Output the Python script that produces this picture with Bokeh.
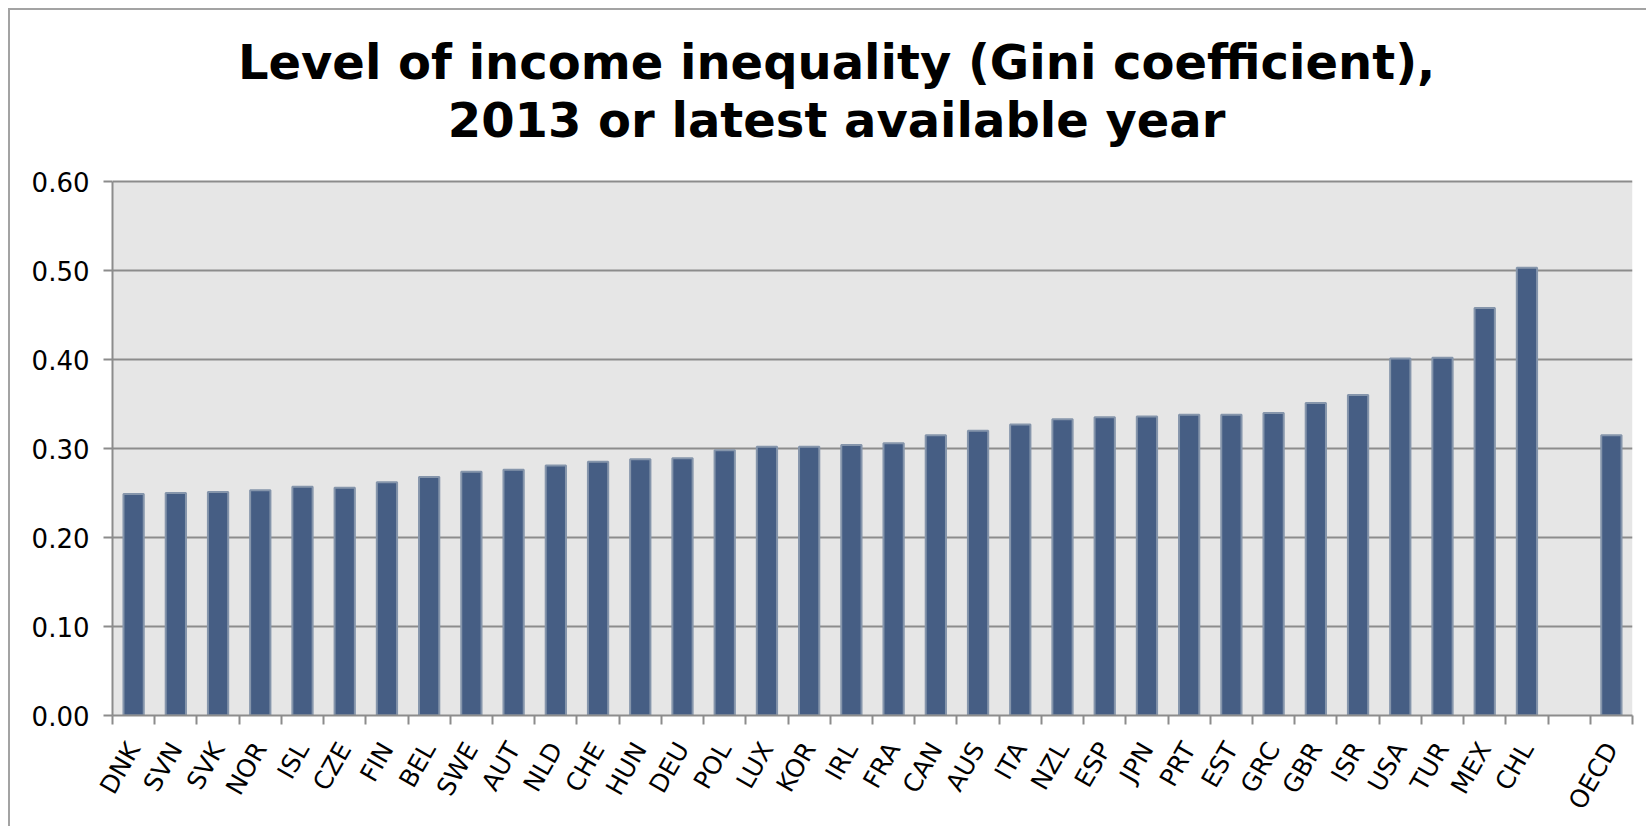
from bokeh.plotting import figure
from bokeh.models import Range1d, FixedTicker, Label, NumeralTickFormatter, BoxAnnotation
from bokeh.embed import file_html
from bokeh.resources import INLINE

# ---- data ----
countries = ["DNK", "SVN", "SVK", "NOR", "ISL", "CZE", "FIN", "BEL", "SWE", "AUT",
             "NLD", "CHE", "HUN", "DEU", "POL", "LUX", "KOR", "IRL", "FRA", "CAN",
             "AUS", "ITA", "NZL", "ESP", "JPN", "PRT", "EST", "GRC", "GBR", "ISR",
             "USA", "TUR", "MEX", "CHL"]
gini = [0.249, 0.250, 0.251, 0.253, 0.257, 0.256, 0.262, 0.268, 0.274, 0.276,
        0.281, 0.285, 0.288, 0.289, 0.298, 0.302, 0.302, 0.304, 0.306, 0.315,
        0.320, 0.327, 0.333, 0.335, 0.336, 0.338, 0.338, 0.340, 0.351, 0.360,
        0.401, 0.402, 0.458, 0.503]
oecd_label = "OECD"
oecd_value = 0.315
y_ticks = [0.0, 0.1, 0.2, 0.3, 0.4, 0.5, 0.6]
title_line1 = "Level of income inequality (Gini coefficient),"
title_line2 = "2013 or latest available year"

labels = countries + [oecd_label]
values = gini + [oecd_value]
slots = list(range(len(countries))) + [len(countries) + 1]   # one empty slot before OECD
n_slots = len(countries) + 2
centers = [s + 0.5 for s in slots]

GRID = "#8c8c8c"
FONT = "DejaVu Sans"
Y_MAX = y_ticks[-1]
Y_TOP = Y_MAX + 171 / 890.0          # extra room above the axis for the title

p = figure(width=1638, height=818, output_backend="svg", toolbar_location=None,
           x_range=Range1d(0, n_slots), y_range=Range1d(0, Y_TOP),
           min_border_left=102, min_border_right=16, min_border_top=0,
           min_border_bottom=113, background_fill_color="white",
           border_fill_color="white", outline_line_color=None)
p.margin = (8, 0, 0, 8)
p.styles = {"border-top": "2px solid #a3a3a3", "border-left": "2px solid #a3a3a3"}

# grey plot area (0 .. 0.60)
p.add_layout(BoxAnnotation(bottom=0, top=Y_MAX, fill_color="#e6e6e6", fill_alpha=1.0,
                           line_color=None, level="image"))

p.vbar(x=centers, top=values, width=0.48, bottom=0,
       fill_color="#465e84", line_color="#8595ab", line_width=2)

# two-line title, centred over the chart area
for txt, yy in ((title_line1, Y_TOP - 51 / 890.0), (title_line2, Y_TOP - 109 / 890.0)):
    p.add_layout(Label(x=17.15, y=yy, text=txt, text_align="center",
                       text_baseline="alphabetic", text_font=FONT,
                       text_font_size="48px", text_font_style="bold",
                       text_color="black"))

# y axis
p.yaxis.ticker = FixedTicker(ticks=y_ticks, minor_ticks=[])
p.yaxis.bounds = (0, Y_MAX)
p.yaxis.formatter = NumeralTickFormatter(format="0.00")
p.yaxis.major_label_text_font = FONT
p.yaxis.major_label_text_font_size = "26px"
p.yaxis.major_label_text_color = "black"
p.yaxis.major_label_standoff = 14
p.yaxis.axis_line_color = GRID
p.yaxis.axis_line_width = 2
p.yaxis.major_tick_line_color = GRID
p.yaxis.major_tick_line_width = 2
p.yaxis.major_tick_out = 9
p.yaxis.major_tick_in = 0

# x axis: labels at bar centres, tick marks at slot boundaries
p.xaxis.ticker = FixedTicker(ticks=centers, minor_ticks=list(range(n_slots + 1)))
p.xaxis.major_label_overrides = {c: lab for c, lab in zip(centers, labels)}
p.xaxis.major_label_orientation = 1.05
p.xaxis.major_label_text_font = FONT
p.xaxis.major_label_text_font_size = "25px"
p.xaxis.major_label_text_color = "black"
p.xaxis.major_label_standoff = 20
p.xaxis.axis_line_color = GRID
p.xaxis.axis_line_width = 2
p.xaxis.major_tick_line_color = None
p.xaxis.minor_tick_line_color = GRID
p.xaxis.minor_tick_line_width = 2
p.xaxis.minor_tick_out = 9
p.xaxis.minor_tick_in = 0

p.xgrid.grid_line_color = None
p.ygrid.grid_line_color = GRID
p.ygrid.grid_line_width = 2
p.ygrid.ticker = FixedTicker(ticks=y_ticks)

open("out.html", "w").write(file_html(p, INLINE))
